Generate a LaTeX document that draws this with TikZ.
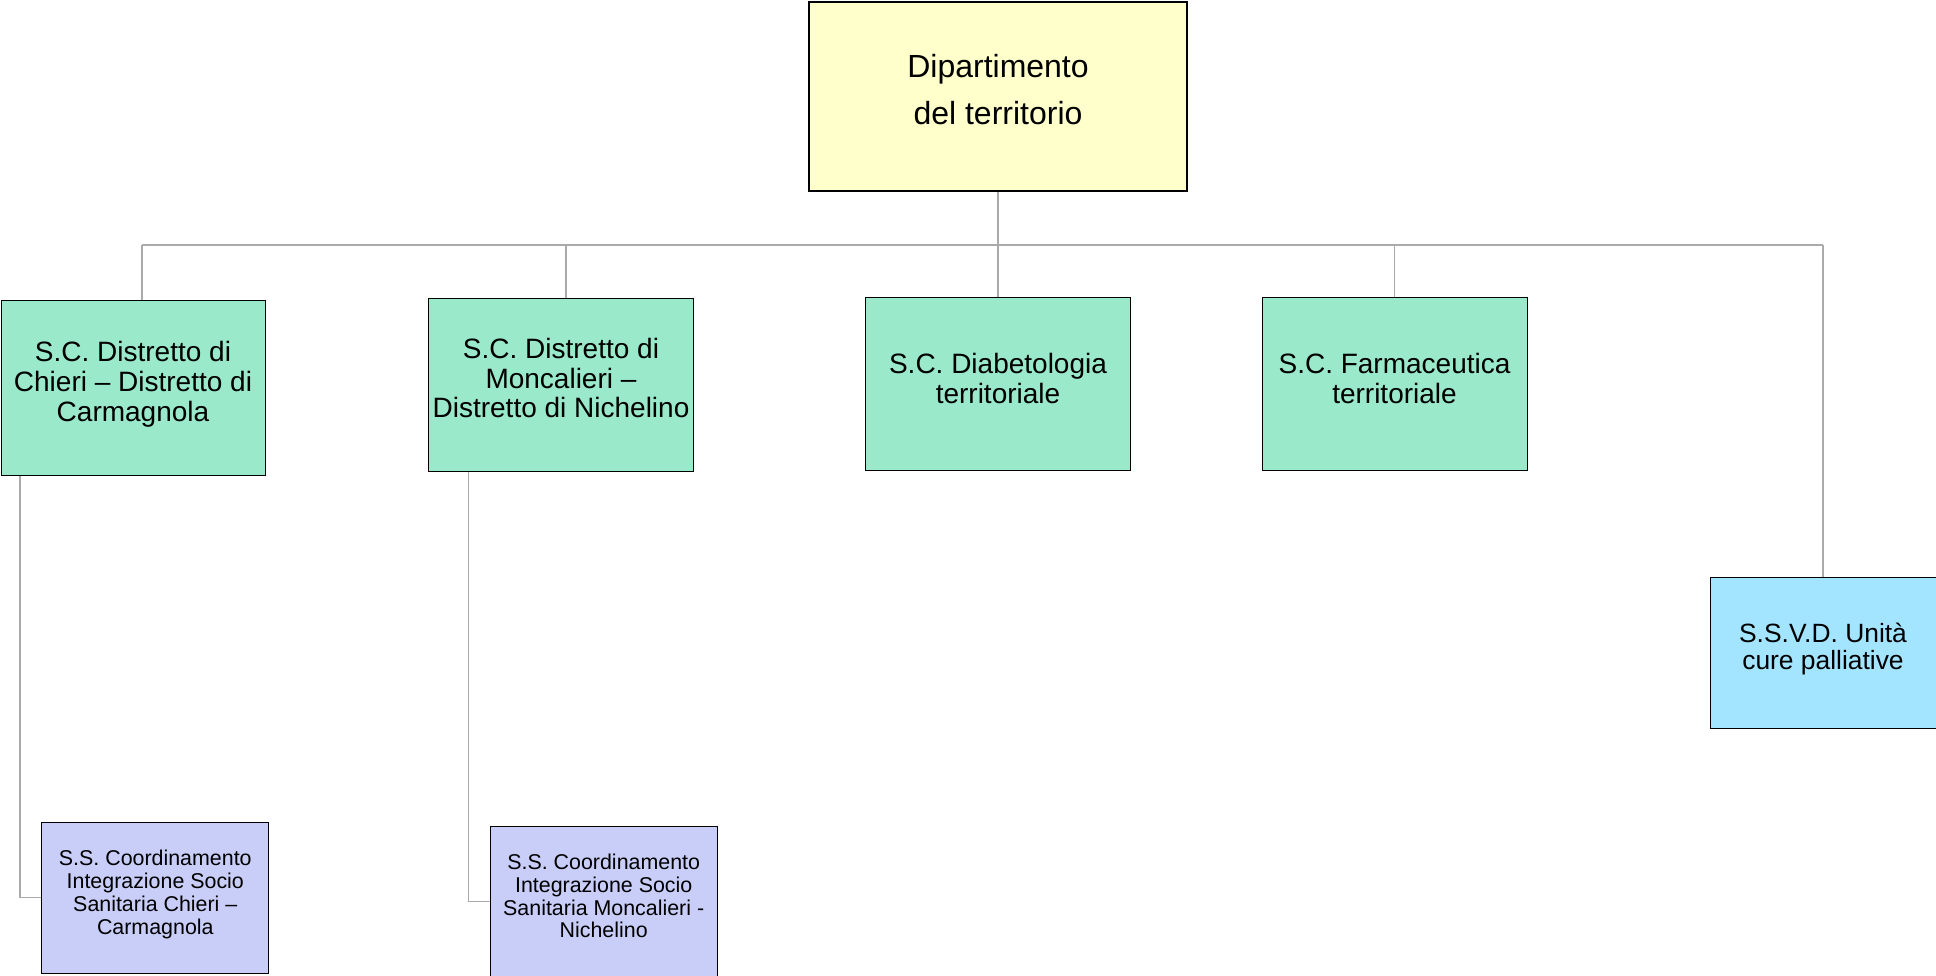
\documentclass[tikz,border=0pt]{standalone}
\usepackage{fontspec}
\setmainfont{Liberation Sans}
\definecolor{topfill}{RGB}{255,255,204}
\definecolor{scfill}{RGB}{153,233,202}
\definecolor{ssfill}{RGB}{200,206,248}
\definecolor{svfill}{RGB}{163,228,255}
\definecolor{linegray}{RGB}{170,170,170}
\tikzset{
  box/.style={draw=black, line width=1pt, rectangle, inner sep=0pt, anchor=center},
  topbox/.style={box, fill=topfill, line width=2pt},
  scbox/.style={box, fill=scfill},
  ssbox/.style={box, fill=ssfill},
  svbox/.style={box, fill=svfill},
  txt/.style={inner sep=0pt, align=center, anchor=center},
  toptxt/.style={txt, font=\fontsize{32}{47}\selectfont},
  sctxt/.style={txt, font=\fontsize{28}{29.6}\selectfont},
  sstxt/.style={txt, font=\fontsize{21.4}{22.7}\selectfont},
  svtxt/.style={txt, font=\fontsize{26.4}{27.5}\selectfont},
  conn/.style={draw=linegray, line width=1.3pt}
}
\begin{document}
\begin{tikzpicture}[x=1pt,y=-1pt]
\useasboundingbox (0,0) rectangle (1936,976);
\clip (0,0) rectangle (1936,976);
% boxes
\node[topbox, minimum width=378pt, minimum height=189pt] (top) at (998,96.5) {};
\node[scbox, minimum width=264pt, minimum height=174pt] (b1) at (133,388) {};
\node[scbox, minimum width=265pt, minimum height=173pt] (b2) at (561,385) {};
\node[scbox, minimum width=264.5pt, minimum height=173pt] (b3) at (998,384) {};
\node[scbox, minimum width=265pt, minimum height=173pt] (b4) at (1394.5,384) {};
\node[svbox, minimum width=240pt, minimum height=151.5pt] (b5) at (1830,652.8) {};
\node[ssbox, minimum width=227pt, minimum height=151pt] (c1) at (155.3,897.5) {};
\node[ssbox, minimum width=227pt, minimum height=151pt] (c2) at (603.7,901.5) {};
% texts
\node[toptxt] (topt) at ([yshift=7.4pt]top.center) {Dipartimento\\del territorio};
\node[sctxt] (b1t) at ([yshift=3.7pt]b1.center) {S.C. Distretto di\\Chieri -- Distretto di\\Carmagnola};
\node[sctxt] (b2t) at ([yshift=6.8pt]b2.center) {S.C. Distretto di\\Moncalieri --\\Distretto di Nichelino};
\node[sctxt] (b3t) at ([yshift=5.5pt]b3.center) {S.C. Diabetologia\\territoriale};
\node[sctxt] (b4t) at ([yshift=5.5pt]b4.center) {S.C. Farmaceutica\\territoriale};
\node[svtxt] (b5t) at ([xshift=-7pt,yshift=3.7pt]b5.center) {S.S.V.D. Unità\\cure palliative};
\node[sstxt] (c1t) at ([yshift=3pt]c1.center) {S.S. Coordinamento\\Integrazione Socio\\Sanitaria Chieri --\\Carmagnola};
\node[sstxt] (c2t) at ([yshift=5.5pt]c2.center) {S.S. Coordinamento\\Integrazione Socio\\Sanitaria Moncalieri -\\Nichelino};
% bus coordinates
\coordinate (busL) at (142,245);
\coordinate (j2) at (566,245);
\coordinate (j4) at (1394.5,245);
\coordinate (busR) at (1823,245);
\coordinate (k1) at (20,0);
\coordinate (k2) at (468.3,0);
% connectors
\draw[conn] (top.south) -- (b3.north);
\draw[conn] (busL) -- (busR);
\draw[conn] (busL) -- (busL |- b1.north);
\draw[conn] (j2) -- (j2 |- b2.north);
\draw[conn] (j4) -- (j4 |- b4.north);
\draw[conn] (busR) -- (busR |- b5.north);
\draw[conn] (b1.south -| k1) |- (c1.west);
\draw[conn] (b2.south -| k2) |- (c2.west);
\end{tikzpicture}
\end{document}
